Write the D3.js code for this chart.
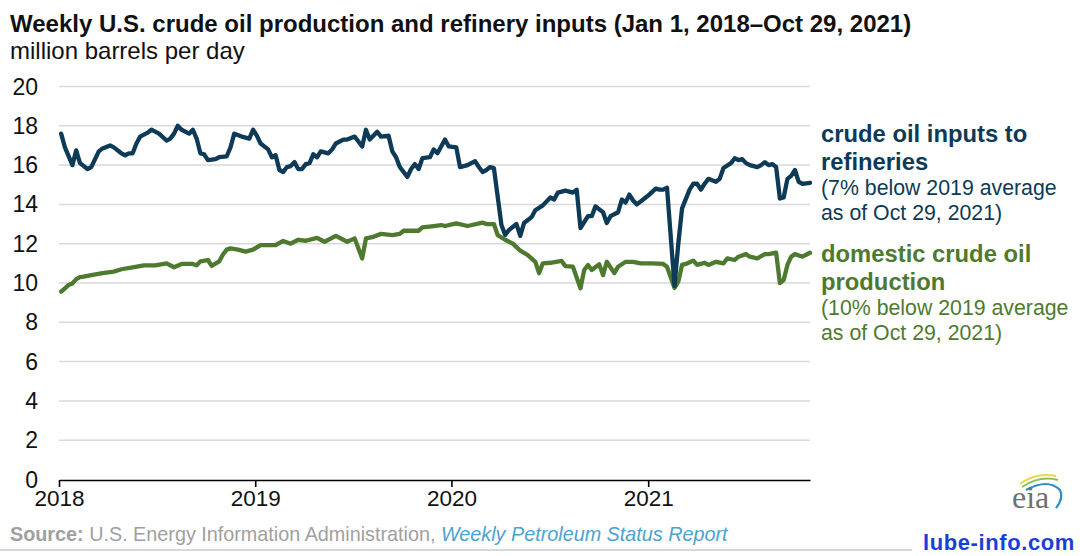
<!DOCTYPE html>
<html><head><meta charset="utf-8">
<script src="https://cdn.jsdelivr.net/npm/d3@7/dist/d3.min.js"></script>
<style>
html,body{margin:0;padding:0;background:#fff;}
svg{display:block;font-family:"Liberation Sans",Arial,sans-serif;}
</style></head>
<body>
<svg id="chart" width="1080" height="556"></svg>
<script>
// ---- data ----
const firstWeek = "2018-01-05"; // week ending dates, weekly steps
const refineryWeeks = [0,1,3,4,5,7,8,10,11,13,14,16,17,18,19,20,21,23,24,25,26,28,29,30,31,32,34,35,36,37,38,39,41,42,44,45,46,48,50,51,52,53,55,56,57,58,59,60,61,62,63,64,65,66,67,68,69,71,72,73,75,76,78,79,80,81,82,84,85,87,88,89,90,92,93,94,95,96,98,99,100,102,103,105,106,108,110,111,112,113,114,115,116,117,118,119,121,122,123,125,126,128,130,131,132,134,135,136,137,138,140,141,142,144,145,146,148,149,150,151,152,153,155,156,158,159,160,161,163,164,165,167,168,169,170,171,172,174,175,176,178,179,180,181,182,183,185,186,187,188,189,190,191,192,193,194,195,196,197,199];
const refineryValues = [17.6,16.9,16.0,16.75,16.1,15.8,15.9,16.7,16.85,17.0,16.9,16.6,16.5,16.6,16.6,17.1,17.45,17.65,17.8,17.7,17.6,17.25,17.35,17.6,18.0,17.8,17.6,17.8,17.35,16.6,16.55,16.25,16.3,16.4,16.45,16.9,17.6,17.45,17.35,17.8,17.5,17.1,16.8,16.4,16.5,15.75,15.65,15.9,15.95,16.15,15.8,15.8,16.05,16.1,16.55,16.4,16.7,16.6,16.8,17.1,17.3,17.3,17.45,17.2,16.95,17.8,17.3,17.7,17.45,17.5,16.7,16.4,15.9,15.4,15.8,16.05,15.8,16.35,16.4,16.8,16.6,17.3,16.95,16.9,15.9,16.0,16.2,15.9,15.65,15.75,15.9,15.85,14.4,12.95,12.45,12.7,13.0,12.4,13.05,13.35,13.7,13.95,14.35,14.25,14.6,14.7,14.65,14.6,14.75,12.8,13.4,13.4,13.9,13.6,13.05,13.4,13.6,14.25,14.1,14.5,14.2,14.0,14.3,14.45,14.8,14.75,14.75,14.85,9.85,12.0,13.8,14.75,15.05,15.05,14.75,15.05,15.3,15.15,15.3,15.85,16.1,16.35,16.25,16.3,16.1,16.0,15.9,16.0,16.15,16.0,16.05,15.9,14.3,14.35,15.3,15.45,15.75,15.15,15.05,15.1];
const productionWeeks = [0,1,2,3,4,5,6,8,11,14,16,19,22,25,28,30,32,35,36,37,39,40,42,43,44,45,47,49,51,53,57,59,61,63,65,68,70,73,76,78,80,81,83,85,88,90,91,95,96,99,101,102,105,108,112,113,115,116,118,120,122,124,126,127,128,130,133,134,136,138,139,140,141,143,144,145,147,148,150,152,154,157,160,161,163,164,165,166,168,169,171,172,174,176,177,179,180,182,183,185,187,188,190,191,192,193,194,195,197,199];
const productionValues = [9.56,9.73,9.9,9.98,10.2,10.3,10.32,10.4,10.5,10.58,10.7,10.8,10.9,10.9,11.0,10.8,10.97,10.97,10.9,11.1,11.17,10.87,11.1,11.45,11.7,11.76,11.7,11.6,11.7,11.93,11.93,12.14,12.0,12.2,12.15,12.3,12.1,12.4,12.1,12.27,11.25,12.27,12.35,12.5,12.44,12.5,12.66,12.66,12.83,12.9,12.95,12.9,13.03,12.9,13.07,13.0,13.0,12.44,12.2,12.0,11.65,11.42,11.08,10.5,11.0,11.03,11.12,10.86,10.83,9.73,10.66,10.92,10.66,10.95,10.4,11.08,10.5,10.83,11.08,11.08,11.0,11.0,10.97,10.83,9.75,10.07,10.92,10.97,11.14,10.92,11.03,10.92,11.08,11.0,11.25,11.17,11.34,11.47,11.34,11.25,11.47,11.47,11.54,10.0,10.15,10.92,11.34,11.47,11.34,11.54];
const yTicks = [0,2,4,6,8,10,12,14,16,18,20];
const xTickYears = ["2018","2019","2020","2021"];
const domainStart = "2018-01-01", domainEnd = "2021-10-29";

const titleText = "Weekly U.S. crude oil production and refinery inputs (Jan 1, 2018\u2013Oct 29, 2021)";
const subtitleText = "million barrels per day";
const refineryLabel = ["crude oil inputs to","refineries"];
const refineryNote = ["(7% below 2019 average","as of Oct 29, 2021)"];
const productionLabel = ["domestic crude oil","production"];
const productionNote = ["(10% below 2019 average","as of Oct 29, 2021)"];

// ---- layout ----
const blue = "#0d3a56", green = "#4e7a2f";
const svg = d3.select("#chart");
const parse = d3.utcParse("%Y-%m-%d");
const start = parse(firstWeek);
const wk = w => d3.utcDay.offset(start, 7*w);

const x = d3.scaleUtc().domain([parse(domainStart), parse(domainEnd)]).range([59, 810]);
const y = d3.scaleLinear().domain([0,20]).range([479.5, 86.5]);

// grid
svg.append("g").selectAll("line").data(yTicks.filter(d=>d>0)).join("line")
  .attr("x1",59).attr("x2",810).attr("y1",d=>y(d)).attr("y2",d=>y(d))
  .attr("stroke","#d9d9d9").attr("stroke-width",1.5);

// y labels
svg.append("g").selectAll("text").data(yTicks).join("text")
  .attr("x",38).attr("y",d=>y(d)+8).attr("text-anchor","end")
  .attr("font-size",23).attr("fill","#111").text(d=>d);

// x axis
const xAxis = d3.axisBottom(x)
  .tickValues(xTickYears.map(s=>parse(s+"-01-01")))
  .tickFormat(d3.utcFormat("%Y")).tickSizeInner(7).tickSizeOuter(0);
const gx = svg.append("g").attr("transform","translate(0,480)").call(xAxis);
gx.select(".domain").attr("stroke","#000").attr("stroke-width",1.6);
gx.selectAll(".tick line").attr("stroke","#000").attr("stroke-width",1.6);
gx.selectAll(".tick text").attr("font-size",22.5).attr("fill","#111")
  .attr("font-family","Liberation Sans, Arial, sans-serif").attr("dy","0.95em").attr("y",5);

// lines
const line = d3.line().x(d=>x(wk(d[0]))).y(d=>y(d[1])).curve(d3.curveLinear);
svg.append("path").datum(productionWeeks.map((w,i)=>[w,productionValues[i]]))
  .attr("d",line).attr("fill","none").attr("stroke",green).attr("stroke-width",4.3)
  .attr("stroke-linejoin","round").attr("stroke-linecap","round");
svg.append("path").datum(refineryWeeks.map((w,i)=>[w,refineryValues[i]]))
  .attr("d",line).attr("fill","none").attr("stroke",blue).attr("stroke-width",4.3)
  .attr("stroke-linejoin","round").attr("stroke-linecap","round");

// title
svg.append("text").attr("x",10).attr("y",32).attr("font-size",24).attr("font-weight","bold")
  .attr("fill","#111").text(titleText);
svg.append("text").attr("x",10).attr("y",59).attr("font-size",24).attr("fill","#111").text(subtitleText);

// annotations
function block(lines, x0, y0, dy, size, weight, color){
  lines.forEach((t,i)=>svg.append("text").attr("x",x0).attr("y",y0+i*dy)
    .attr("font-size",size).attr("font-weight",weight).attr("fill",color).text(t));
}
block(refineryLabel, 821, 142, 27.5, 23.8, "bold", blue);
block(refineryNote, 821, 195, 25, 21.3, "normal", blue);
block(productionLabel, 821, 262, 27.5, 23.8, "bold", green);
block(productionNote, 821, 315, 25, 21.3, "normal", green);

// source
const src = svg.append("text").attr("x",10).attr("y",541).attr("font-size",19.8).attr("fill","#a0a0a0");
src.append("tspan").attr("font-weight","bold").text("Source:");
src.append("tspan").text(" U.S. Energy Information Administration, ");
src.append("tspan").attr("font-style","italic").attr("fill","#4aa3d3").text("Weekly Petroleum Status Report");
svg.append("line").attr("x1",0).attr("x2",912).attr("y1",550).attr("y2",550).attr("stroke","#d8d8d8").attr("stroke-width",2);

// eia logo
const logo = svg.append("g").attr("transform","translate(1012,470)");
logo.append("path").attr("d","M8,14 Q24,2 44,6").attr("fill","none").attr("stroke","#e8d84a").attr("stroke-width",2);
logo.append("path").attr("d","M10,17 Q28,5 46,10").attr("fill","none").attr("stroke","#8cc152").attr("stroke-width",2);
logo.append("path").attr("d","M14,20 Q36,8 48,20 Q52,28 44,38").attr("fill","none").attr("stroke","#2c8fc9").attr("stroke-width",2.2);
logo.append("text").attr("x",0).attr("y",38).attr("font-family","Liberation Serif, serif").attr("font-size",32).attr("fill","#707070").text("eia");

// watermark
svg.append("text").attr("x",1075).attr("y",550).attr("text-anchor","end").attr("font-size",22)
  .attr("font-weight","bold").attr("fill","#1a3fd6").attr("letter-spacing",0.6).text("lube-info.com");
</script>
</body></html>
